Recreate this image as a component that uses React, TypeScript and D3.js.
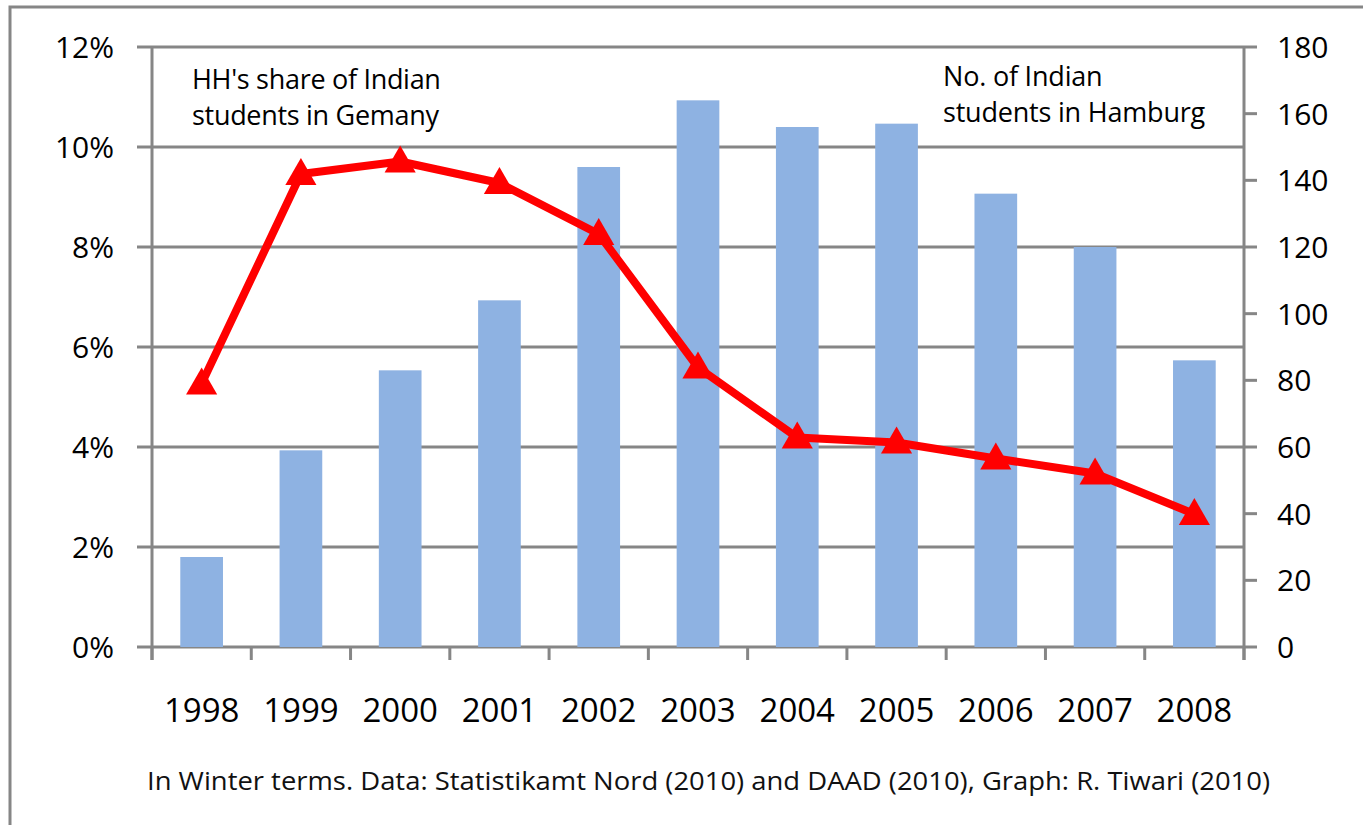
import React from "react";
import * as d3 from "d3";

const years = ["1998", "1999", "2000", "2001", "2002", "2003", "2004", "2005", "2006", "2007", "2008"];
const students = [27, 59, 83, 104, 144, 164, 156, 157, 136, 120, 86];
const sharePct = [5.27, 9.46, 9.71, 9.28, 8.26, 5.59, 4.19, 4.09, 3.77, 3.47, 2.66];
const leftTicks = [0, 2, 4, 6, 8, 10, 12];
const rightTicks = [0, 20, 40, 60, 80, 100, 120, 140, 160, 180];
const footer = "In Winter terms. Data: Statistikamt Nord (2010) and DAAD (2010),  Graph: R. Tiwari (2010)";

const W = 1363, H = 825;
const L = 152, R = 1244, T = 47, B = 647;
const FONT = "'Open Sans', sans-serif";
const GRID = "#868686";

export default function App() {
  const x = d3.scaleBand().domain(years).range([L, R]).paddingInner(0).paddingOuter(0);
  const yL = d3.scaleLinear().domain([0, 12]).range([B, T]);
  const yR = d3.scaleLinear().domain([0, 180]).range([B, T]);
  const bw = x.bandwidth() * 0.43;
  const cx = (y: string) => (x(y) as number) + x.bandwidth() / 2;
  const line = d3.line<number>().x((_, i) => cx(years[i])).y((d) => yL(d));
  const tri = d3.symbol().type(d3.symbolTriangle).size(420)();
  const boundaries = [...years.map((y) => x(y) as number), R];

  return (
    <svg width={W} height={H} style={{ position: "absolute", left: 0, top: 0, background: "#fff" }}>
      <rect x={10} y={7} width={W + 20} height={H + 20} fill="none" stroke={GRID} strokeWidth={3} />
      {leftTicks.map((t) => (
        <line key={"g" + t} x1={137} x2={R} y1={yL(t)} y2={yL(t)} stroke={GRID} strokeWidth={3} />
      ))}
      {students.map((v, i) => (
        <rect key={"b" + i} x={cx(years[i]) - bw / 2} y={yR(v)} width={bw} height={B - yR(v)} fill="#8EB2E2" />
      ))}
      <line x1={L} x2={L} y1={T} y2={660} stroke={GRID} strokeWidth={3} />
      <line x1={R} x2={R} y1={T} y2={660} stroke={GRID} strokeWidth={3} />
      {boundaries.map((b, i) => (
        <line key={"t" + i} x1={b} x2={b} y1={B} y2={660} stroke={GRID} strokeWidth={3} />
      ))}
      {rightTicks.map((t) => (
        <line key={"rt" + t} x1={R} x2={1257} y1={yR(t)} y2={yR(t)} stroke={GRID} strokeWidth={3} />
      ))}
      <path d={line(sharePct) || ""} fill="none" stroke="#FF0000" strokeWidth={8} strokeLinejoin="round" />
      {sharePct.map((v, i) => (
        <path key={"m" + i} d={tri || ""} transform={`translate(${cx(years[i])},${yL(v) + 2})`} fill="#FF0000" />
      ))}
      {leftTicks.map((t) => (
        <text key={"lt" + t} x={114} y={yL(t) + 11} textAnchor="end" fontFamily={FONT} fontSize={30} fill="#000">
          {t + "%"}
        </text>
      ))}
      {rightTicks.map((t) => (
        <text key={"rl" + t} x={1277} y={yR(t) + 11} textAnchor="start" fontFamily={FONT} fontSize={30} fill="#000">
          {t}
        </text>
      ))}
      {years.map((y) => (
        <text key={"x" + y} x={cx(y)} y={722} textAnchor="middle" fontFamily={FONT} fontSize={33} fill="#000">
          {y}
        </text>
      ))}
      <text fontFamily={FONT} fontSize={27} fill="#000" letterSpacing={-0.3}>
        <tspan x={192} y={89}>HH's share of Indian</tspan>
        <tspan x={192} y={125}>students in Gemany</tspan>
      </text>
      <text fontFamily={FONT} fontSize={27} fill="#000" letterSpacing={-0.2}>
        <tspan x={943} y={86}>No. of Indian</tspan>
        <tspan x={943} y={122}>students in Hamburg</tspan>
      </text>
      <text x={147} y={790} fontFamily={FONT} fontSize={26} fill="#111" textLength={1123} lengthAdjust="spacingAndGlyphs">
        {footer}
      </text>
    </svg>
  );
}
